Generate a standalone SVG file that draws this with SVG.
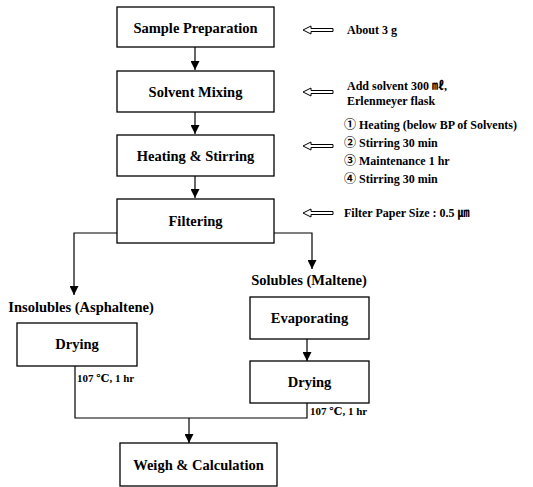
<svg xmlns="http://www.w3.org/2000/svg" width="533" height="487" viewBox="0 0 533 487">
<defs>
<style>
.box{fill:#fff;stroke:#000;stroke-width:1.3}
.t{font-family:"Liberation Serif","Times New Roman","DejaVu Serif",serif;font-weight:bold;font-size:14.5px;fill:#000;text-anchor:middle;dominant-baseline:central}
.n{font-family:"Liberation Serif","Times New Roman","DejaVu Serif","Noto Sans CJK KR",serif;font-weight:bold;font-size:12px;fill:#000;dominant-baseline:central}
.s{font-family:"Liberation Serif","Times New Roman","DejaVu Serif",serif;font-weight:bold;font-size:11px;fill:#000}
.ln{fill:none;stroke:#000;stroke-width:1.2}
.ha{fill:#fff;stroke:#000;stroke-width:1}
</style>
<marker id="ah" viewBox="0 0 10 10" refX="10" refY="5" markerWidth="9" markerHeight="9" markerUnits="userSpaceOnUse" orient="auto"><path d="M0,0L10,5L0,10Z" fill="#000"/></marker>
</defs>
<rect width="533" height="487" fill="#fff"/>
<g id="connectors">
<path class="ln" d="M195,47V70" marker-end="url(#ah)"/>
<path class="ln" d="M195,112V134" marker-end="url(#ah)"/>
<path class="ln" d="M195,176V198" marker-end="url(#ah)"/>
<path class="ln" d="M117,233H74V295" marker-end="url(#ah)"/>
<path class="ln" d="M274,233H312V269" marker-end="url(#ah)"/>
<path class="ln" d="M307,339V361" marker-end="url(#ah)"/>
<path class="ln" d="M75,366V418H307V403"/>
<path class="ln" d="M189,418V443" marker-end="url(#ah)"/>
</g>
<g id="sample"><rect class="box" x="117" y="7" width="157" height="40"/><text class="t" x="195.5" y="28">Sample Preparation</text></g>
<g id="mixing"><rect class="box" x="117" y="71" width="157" height="41"/><text class="t" x="195.5" y="92">Solvent Mixing</text></g>
<g id="heating"><rect class="box" x="117" y="135" width="157" height="41"/><text class="t" x="195.5" y="156">Heating &amp; Stirring</text></g>
<g id="filtering"><rect class="box" x="117" y="199" width="157" height="44"/><text class="t" x="195.5" y="221">Filtering</text></g>
<g id="insolubles"><text class="t" x="81" y="307">Insolubles (Asphaltene)</text></g>
<g id="drying1"><rect class="box" x="17" y="323" width="120" height="43"/><text class="t" x="77" y="344">Drying</text><text class="s" x="77" y="382">107 ℃, 1 hr</text></g>
<g id="solubles"><text class="t" x="309" y="280">Solubles (Maltene)</text></g>
<g id="evaporating"><rect class="box" x="250" y="297" width="119" height="42"/><text class="t" x="309.5" y="318">Evaporating</text></g>
<g id="drying2"><rect class="box" x="250" y="361" width="119" height="42"/><text class="t" x="309.5" y="382">Drying</text><text class="s" x="310" y="415">107 ℃, 1 hr</text></g>
<g id="weigh"><rect class="box" x="120" y="443" width="157" height="43"/><text class="t" x="198.5" y="465">Weigh &amp; Calculation</text></g>
<g id="note1"><path class="ha" d="M303,30L311,26V28.5H333V31.5H311V34Z"/><text class="n" x="347" y="30">About 3 g</text></g>
<g id="note2"><path class="ha" d="M303,92L311,88V90.5H333V93.5H311V96Z"/><text class="n" x="347" y="86">Add solvent 300 ㎖,</text><text class="n" x="347" y="101">Erlenmeyer flask</text></g>
<g id="note3"><path class="ha" d="M303,146L311,142V144.5H333V147.5H311V150Z"/><text class="n" x="344" y="125">① Heating (below BP of Solvents)</text><text class="n" x="344" y="143">② Stirring 30 min</text><text class="n" x="344" y="161">③ Maintenance 1 hr</text><text class="n" x="344" y="179">④ Stirring 30 min</text></g>
<g id="note4"><path class="ha" d="M303,213L311,209V211.5H333V214.5H311V217Z"/><text class="n" x="344" y="213">Filter Paper Size : 0.5 ㎛</text></g>
</svg>
